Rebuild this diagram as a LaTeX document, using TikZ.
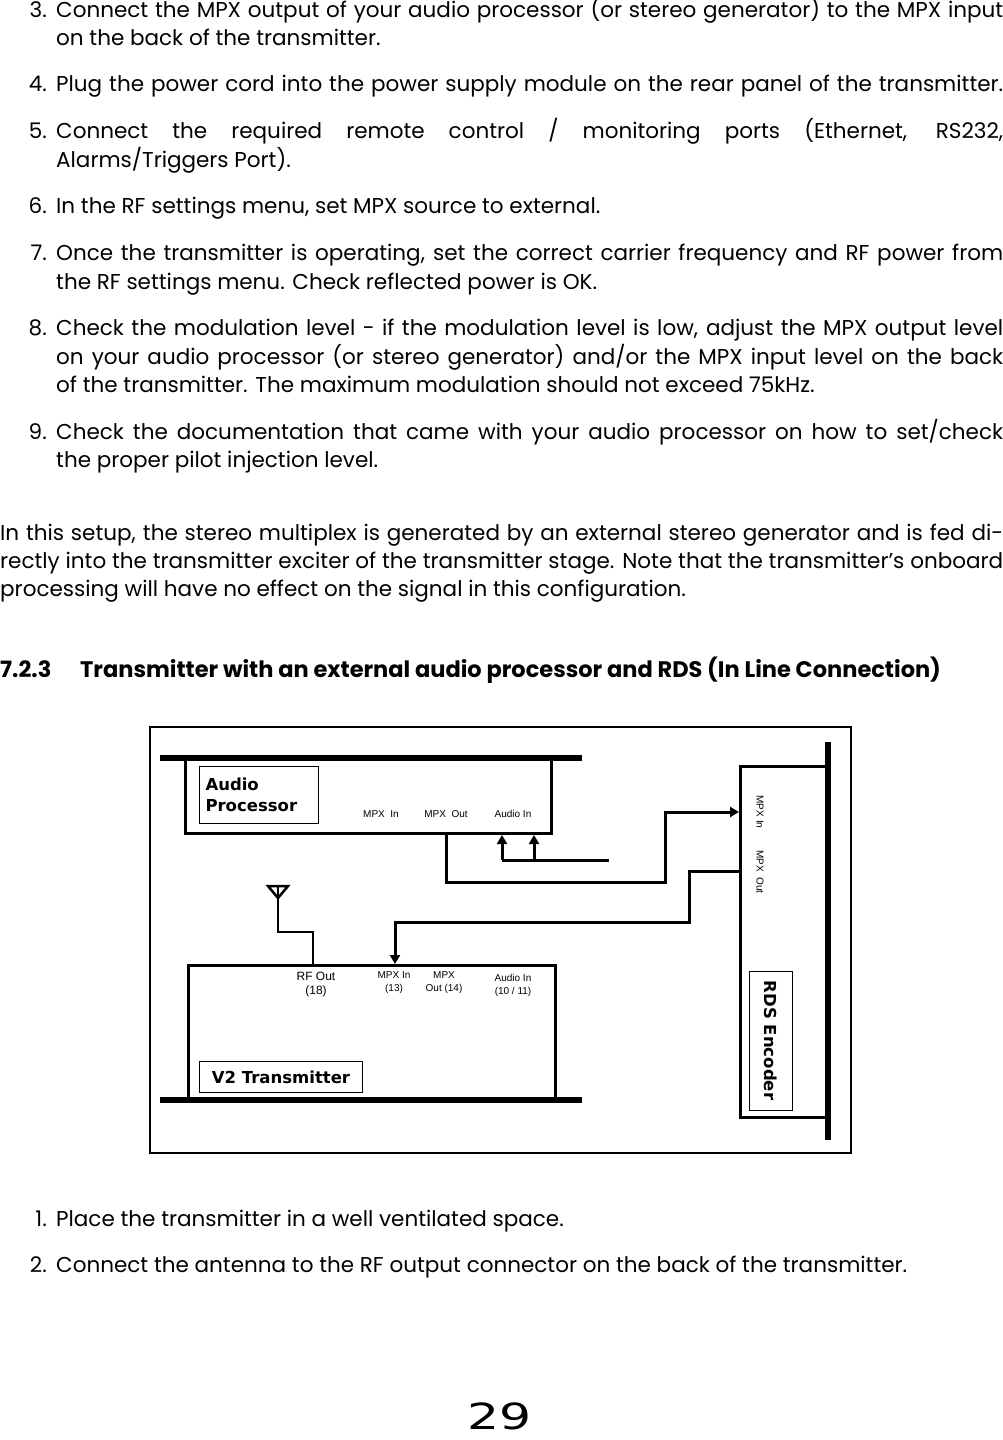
\documentclass[tikz,border=0pt]{standalone}
\usepackage{fontspec}
\setmainfont{Poppins}
\newfontfamily\arial{Liberation Sans}
\newfontfamily\dvs{DejaVu Sans}
\usetikzlibrary{arrows.meta}
\newcommand{\fl}[2]{\parbox[b]{#1pt}{\parfillskip=0pt\relax #2}}
\begin{document}
\begin{tikzpicture}[x=1pt,y=-1pt,
  tx/.style={anchor=base west,inner sep=0pt,font=\fontsize{21.5}{24}\selectfont},
  num/.style={anchor=base east,inner sep=0pt,font=\fontsize{21.5}{24}\selectfont},
  thick bar/.style={line width=6pt},
  wire/.style={line width=3pt},
  arr/.style={line width=3pt,-{Triangle[length=9pt,width=10pt]}},
  lbl/.style={font=\arial\fontsize{10}{11}\selectfont,align=center,inner sep=0pt},
  namebox/.style={draw,line width=1pt,font=\dvs\bfseries\fontsize{16.5}{20}\selectfont,inner sep=0pt}]
\useasboundingbox (0,0) rectangle (1003,1440);
% list 3-9
\node[num] (n3) at (47,17) {3.};
\node[tx] (t3a) at (56,17) {\fl{947}{Connect the MPX output of your audio processor (or stereo generator) to the MPX input}};
\node[tx] (t3b) at (56,45) {on the back of the transmitter.};
\node[num] (n4) at (47,91) {4.};
\node[tx] (t4) at (56,91) {\fl{947}{Plug the power cord into the power supply module on the rear panel of the transmitter.}};
\node[num] (n5) at (47,138) {5.};
\node[tx] (t5a) at (56,138) {\fl{947}{Connect the required remote control / monitoring ports (Ethernet, RS232,}};
\node[tx] (t5b) at (56,167) {Alarms/Triggers Port).};
\node[num] (n6) at (47,213) {6.};
\node[tx] (t6) at (56,213) {In the RF settings menu, set MPX source to external.};
\node[num] (n7) at (47,260) {7.};
\node[tx] (t7a) at (56,260) {\fl{947}{Once the transmitter is operating, set the correct carrier frequency and RF power from}};
\node[tx] (t7b) at (56,289) {the RF settings menu. Check reflected power is OK.};
\node[num] (n8) at (47,335) {8.};
\node[tx] (t8a) at (56,335) {\fl{947}{Check the modulation level - if the modulation level is low, adjust the MPX output level}};
\node[tx] (t8b) at (56,364) {\fl{947}{on your audio processor (or stereo generator) and/or the MPX input level on the back}};
\node[tx] (t8c) at (56,392) {of the transmitter. The maximum modulation should not exceed 75kHz.};
\node[num] (n9) at (47,439) {9.};
\node[tx] (t9a) at (56,439) {\fl{947}{Check the documentation that came with your audio processor on how to set/check}};
\node[tx] (t9b) at (56,467) {the proper pilot injection level.};
% paragraph
\node[tx] (p1) at (0,540) {\fl{1003}{In this setup, the stereo multiplex is generated by an external stereo generator and is fed di-}};
\node[tx] (p2) at (0,568) {\fl{1003}{rectly into the transmitter exciter of the transmitter stage. Note that the transmitter’s onboard}};
\node[tx] (p3) at (0,596) {processing will have no effect on the signal in this configuration.};
% heading
\node[tx,font=\bfseries\fontsize{22.5}{24}\selectfont] (h1) at (0,677) {7.2.3};
\node[tx,font=\bfseries\fontsize{22.5}{24}\selectfont] (h2) at (80,677) {Transmitter with an external audio processor and RDS (In Line Connection)};
% list 1-2
\node[num] (n1) at (47,1226) {1.};
\node[tx] (t1) at (56,1226) {Place the transmitter in a well ventilated space.};
\node[num] (n2) at (47,1272) {2.};
\node[tx] (t2) at (56,1272) {Connect the antenna to the RF output connector on the back of the transmitter.};
% page number
\node[inner sep=0pt,font=\dvs\fontsize{36}{36}\selectfont,xscale=1.4] (pg) at (500,1416) {29};
% ===== diagram =====
\draw[line width=2pt] (150,727) rectangle (851,1153);
% audio processor
\draw[thick bar] (160,758) -- (582,758);
\draw[wire] (185,758) -- (185,833) -- (551,833) -- (551,758);
\node[namebox,minimum width=119pt,minimum height=57pt,anchor=north west,align=left,text width=107pt] (apn) at (199,766) {Audio\\[1pt]Processor};
\node[lbl] (apin) at (381,814) {MPX\ \ In};
\node[lbl] (apout) at (446,814) {MPX\ \ Out};
\node[lbl] (apaud) at (513,814) {Audio In};
% transmitter
\draw[thick bar] (160,1100) -- (582,1100);
\draw[wire] (188,1100) -- (188,965) -- (555,965) -- (555,1100);
\node[namebox,minimum width=163pt,minimum height=31pt,anchor=north west] (txn) at (199,1061) {V2 Transmitter};
\node[lbl,font=\arial\fontsize{12}{14}\selectfont] (rf) at (316,985) {RF Out\\(18)};
\node[lbl] (txin) at (394,983) {MPX In\\[2pt](13)};
\node[lbl] (txout) at (444,983) {MPX\\[2pt]Out (14)};
\node[lbl] (txaud) at (513,985) {Audio In\\[2pt](10 / 11)};
% RDS encoder
\draw[thick bar] (828,742) -- (828,1140);
\draw[wire] (826,766) -- (740,766) -- (740,1117) -- (826,1117);
\node[namebox,minimum width=139pt,minimum height=43pt,rotate=-90] (rdsn) at (770.5,1040.5) {RDS Encoder};
\node[lbl,rotate=-90] (rin) at (760,812) {MPX In};
\node[lbl,rotate=-90] (rout) at (760,872) {MPX\ \ Out};
% connectors
\coordinate (a1) at (502,860);
\coordinate (a2) at (534,860);
\coordinate (a3) at (609,860);
\draw[wire] (a3) -- (a1);
\draw[arr] (a1) -- (502,835);
\draw[arr] (a2) -- (534,835);
\coordinate (mo) at (446,833);
\coordinate (ri) at (739,812);
\draw[arr] (mo) -- (446,882) -- (665,882) -- (665,812) -- (ri);
\coordinate (ro) at (739,871);
\coordinate (ti) at (395,964);
\draw[arr] (ro) -- (689,871) -- (689,922) -- (395,922) -- (ti);
% antenna
\coordinate (ant) at (278,898);
\draw[line width=2.5pt,line join=miter] (268,886) -- (288,886) -- (ant) -- cycle;
\draw[line width=2.5pt] (278,886) -- (ant) -- (278,932) -- (313,932) -- (313,965);
\end{tikzpicture}
\end{document}
